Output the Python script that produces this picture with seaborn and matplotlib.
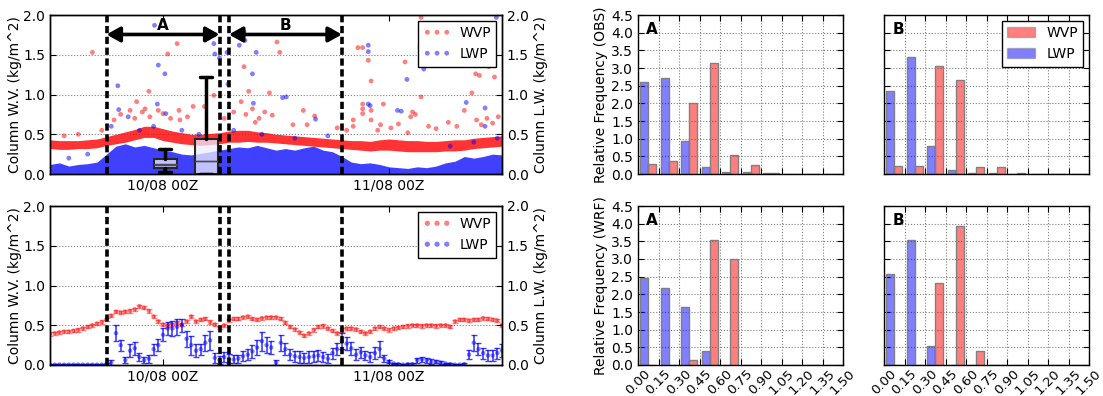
import numpy as np
import pandas as pd
import matplotlib
matplotlib.use("Agg")
import matplotlib.pyplot as plt
import seaborn as sns
from matplotlib.patches import Patch

# ---- time axis (hours relative to 10/08 00Z) ----
obs_hours = np.arange(-12, 37, 1)          # hourly envelope of the OBS cloud
wrf_hours = np.arange(-12, 36.5, 0.5)      # WRF samples every 30 min
time_ticks = [0, 24]
time_labels = ['10/08 00Z', '11/08 00Z']
period_lines = [-6, 6, 7, 19]
periods = {'A': (-6, 6), 'B': (7, 19)}

# ---- OBS: dense band of points (lower / upper edge per hour) ----
obs_wvp_lo = [0.32, 0.31, 0.31, 0.32, 0.32, 0.33, 0.36, 0.38, 0.40, 0.43, 0.46, 0.46,
              0.42, 0.40, 0.38, 0.37, 0.36, 0.37, 0.38, 0.40, 0.40, 0.41, 0.40, 0.40,
              0.39, 0.38, 0.37, 0.36, 0.35, 0.34, 0.33, 0.32, 0.31, 0.30, 0.29, 0.30,
              0.30, 0.29, 0.28, 0.28, 0.28, 0.28, 0.29, 0.29, 0.30, 0.32, 0.33, 0.34, 0.35]
obs_wvp_hi = [0.43, 0.42, 0.42, 0.42, 0.43, 0.44, 0.47, 0.50, 0.53, 0.56, 0.60, 0.60,
              0.57, 0.54, 0.52, 0.50, 0.50, 0.51, 0.52, 0.54, 0.55, 0.55, 0.53, 0.52,
              0.50, 0.49, 0.48, 0.47, 0.46, 0.45, 0.44, 0.43, 0.42, 0.42, 0.41, 0.43,
              0.44, 0.43, 0.42, 0.42, 0.41, 0.41, 0.42, 0.43, 0.43, 0.45, 0.46, 0.47, 0.48]
obs_lwp_hi = [0.12, 0.14, 0.10, 0.12, 0.13, 0.15, 0.25, 0.35, 0.38, 0.34, 0.36, 0.33,
              0.30, 0.28, 0.25, 0.24, 0.26, 0.28, 0.30, 0.32, 0.34, 0.33, 0.36, 0.33,
              0.30, 0.32, 0.30, 0.33, 0.35, 0.30, 0.28, 0.22, 0.15, 0.13, 0.14, 0.12,
              0.09, 0.08, 0.07, 0.09, 0.08, 0.10, 0.14, 0.16, 0.22, 0.20, 0.22, 0.25, 0.24]

# ---- OBS: scattered points away from the band (hour, value) ----
obs_wvp_points = [(-7.5, 1.53), (1.5, 1.64), (0.5, 1.51), (-1.5, 1.04), (-2.8, 0.91), (-3.5, 0.80),
                  (-2.2, 0.78), (-1.9, 0.82), (-0.5, 0.80), (0.0, 0.76), (1.7, 0.80), (-1.4, 0.72),
                  (0.8, 0.70), (1.8, 0.68), (-4.5, 0.75), (-5.2, 0.68), (-3.0, 0.70), (2.6, 0.72),
                  (3.2, 0.85), (4.4, 0.85), (5.4, 0.99), (6.5, 0.70), (7.5, 0.78), (8.3, 0.91),
                  (8.6, 1.35), (9.1, 1.04), (11.3, 1.02), (12.1, 1.66), (12.4, 1.53), (17.8, 1.80),
                  (8.8, 0.75), (9.5, 0.82), (10.2, 0.70), (10.8, 0.78), (11.6, 0.74), (9.8, 0.65),
                  (13.8, 0.62), (14.9, 0.80), (16.1, 0.73), (15.3, 0.62), (20.2, 0.68), (20.2, 0.60),
                  (20.7, 1.59), (21.2, 1.59), (21.8, 1.43), (22.1, 1.17), (21.2, 0.88), (21.2, 0.82),
                  (21.2, 0.76), (22.1, 0.80), (22.1, 0.68), (23.4, 0.88), (23.1, 0.62), (24.2, 0.58),
                  (25.0, 0.63), (25.7, 1.41), (26.3, 0.72), (26.5, 0.78), (26.8, 0.75), (27.4, 0.97),
                  (27.4, 1.97), (28.2, 0.60), (29.0, 0.57), (30.3, 0.65), (31.2, 0.60), (32.0, 0.80),
                  (32.8, 1.02), (32.8, 1.41), (33.2, 1.26), (33.6, 1.24), (34.6, 1.35), (35.2, 1.22),
                  (33.3, 0.68), (33.8, 0.62), (34.4, 0.70), (35.0, 0.64), (35.6, 0.72), (-9.0, 0.50),
                  (-10.5, 0.48), (-6.5, 0.55), (18.5, 0.58), (19.5, 0.55), (22.8, 0.55), (26.0, 0.52)]
obs_lwp_points = [(-0.9, 1.87), (-0.5, 1.37), (0.2, 1.26), (-4.8, 1.11), (-4.7, 0.81), (-3.7, 0.72),
                  (-0.6, 0.88), (0.3, 0.76), (-5.5, 0.60), (-2.5, 0.55), (-1.0, 0.60), (2.0, 0.55),
                  (3.8, 0.50), (5.4, 1.64), (5.5, 1.51), (6.0, 1.46), (6.8, 1.53), (8.1, 1.62),
                  (8.7, 1.68), (8.6, 1.79), (9.9, 1.53), (9.5, 1.26), (6.9, 1.13), (12.7, 0.96),
                  (9.6, 0.89), (13.1, 0.97), (16.2, 0.69), (7.5, 0.55), (10.5, 0.50), (14.0, 0.45),
                  (17.5, 0.48), (21.8, 1.62), (21.8, 1.54), (21.8, 0.88), (22.0, 0.86), (24.9, 0.80),
                  (25.3, 0.79), (25.9, 1.19), (27.3, 1.59), (27.7, 1.32), (32.2, 0.90), (34.2, 0.83),
                  (35.4, 1.97), (34.2, 0.60), (30.5, 0.35), (33.0, 0.40), (35.5, 0.45), (-8.0, 0.25),
                  (-10.0, 0.20)]

# ---- OBS box plots inside period A ----
box_pos = [0.25, 4.6]
box_stats = [dict(med=0.13, q1=0.07, q3=0.185, whislo=0.02, whishi=0.32, mean=0.11),
             dict(med=0.16, q1=0.0, q3=0.44, whislo=0.0, whishi=1.22, mean=0.16)]

# ---- WRF time series ----
wrf_wvp = [0.39, 0.40, 0.41, 0.42, 0.42, 0.43, 0.44, 0.46, 0.48, 0.50, 0.52, 0.54,
           0.57, 0.62, 0.67, 0.66, 0.67, 0.68, 0.70, 0.74, 0.72, 0.68, 0.61, 0.55,
           0.51, 0.50, 0.51, 0.53, 0.51, 0.55, 0.61, 0.55, 0.57, 0.58, 0.54, 0.51,
           0.47, 0.50, 0.56, 0.58, 0.58, 0.60, 0.61, 0.58, 0.57, 0.59, 0.60, 0.60,
           0.60, 0.58, 0.53, 0.48, 0.45, 0.41, 0.37, 0.40, 0.44, 0.48, 0.49, 0.46,
           0.43, 0.40, 0.44, 0.46, 0.46, 0.45, 0.42, 0.40, 0.42, 0.46, 0.48, 0.46,
           0.44, 0.46, 0.47, 0.48, 0.49, 0.50, 0.50, 0.49, 0.50, 0.50, 0.49, 0.50,
           0.50, 0.48, 0.55, 0.57, 0.57, 0.56, 0.57, 0.57, 0.59, 0.58, 0.57, 0.56,
           0.50]
WVP_ERR = 0.02
wrf_lwp = [0.005, 0.005, 0.005, 0.005, 0.005, 0.005, 0.005, 0.005, 0.005, 0.005, 0.005, 0.005,
           0.01, 0.03, 0.40, 0.25, 0.06, 0.18, 0.21, 0.10, 0.06, 0.08, 0.20, 0.25,
           0.38, 0.46, 0.46, 0.48, 0.50, 0.33, 0.25, 0.18, 0.20, 0.28, 0.31, 0.09,
           0.06, 0.10, 0.08, 0.07, 0.08, 0.11, 0.13, 0.17, 0.22, 0.30, 0.25, 0.22,
           0.03, 0.28, 0.20, 0.13, 0.11, 0.10, 0.09, 0.10, 0.11, 0.12, 0.10, 0.08,
           0.15, 0.20, 0.30, 0.27, 0.21, 0.13, 0.16, 0.12, 0.10, 0.15, 0.20, 0.08,
           0.04, 0.02, 0.01, 0.005, 0.01, 0.01, 0.06, 0.07, 0.06, 0.04, 0.04, 0.03,
           0.02, 0.01, 0.005, 0.005, 0.01, 0.13, 0.28, 0.20, 0.15, 0.12, 0.12, 0.15,
           0.18]
wrf_lwp_err = [0.005, 0.005, 0.005, 0.005, 0.005, 0.005, 0.005, 0.005, 0.005, 0.005, 0.005, 0.005,
               0.01, 0.03, 0.10, 0.07, 0.04, 0.08, 0.08, 0.05, 0.04, 0.05, 0.07, 0.08,
               0.08, 0.08, 0.09, 0.10, 0.08, 0.10, 0.12, 0.08, 0.07, 0.10, 0.12, 0.06,
               0.05, 0.06, 0.06, 0.05, 0.05, 0.06, 0.07, 0.08, 0.09, 0.12, 0.10, 0.08,
               0.03, 0.10, 0.08, 0.07, 0.07, 0.07, 0.06, 0.07, 0.07, 0.07, 0.06, 0.06,
               0.07, 0.08, 0.10, 0.08, 0.08, 0.07, 0.07, 0.06, 0.06, 0.08, 0.10, 0.04,
               0.02, 0.01, 0.01, 0.005, 0.01, 0.01, 0.03, 0.03, 0.03, 0.03, 0.02, 0.02,
               0.01, 0.01, 0.005, 0.005, 0.01, 0.06, 0.10, 0.08, 0.07, 0.07, 0.07, 0.07,
               0.08]

# ---- relative frequency histograms (bins of 0.15 from 0 to 1.5) ----
bin_edges = np.round(np.arange(0, 1.51, 0.15), 2)
hist_obs_a_lwp = [2.60, 2.73, 0.93, 0.20, 0.07, 0.06, 0.02, 0.01, 0.0, 0.01]
hist_obs_a_wvp = [0.27, 0.37, 2.00, 3.15, 0.55, 0.25, 0.04, 0.0, 0.0, 0.01]
hist_obs_b_lwp = [2.35, 3.30, 0.80, 0.11, 0.04, 0.02, 0.01, 0.0, 0.0, 0.0]
hist_obs_b_wvp = [0.24, 0.24, 3.07, 2.65, 0.20, 0.21, 0.03, 0.0, 0.0, 0.0]
hist_wrf_a_lwp = [2.45, 2.17, 1.63, 0.40, 0.0, 0.0, 0.0, 0.0, 0.0, 0.0]
hist_wrf_a_wvp = [0.0, 0.0, 0.13, 3.53, 3.00, 0.0, 0.0, 0.0, 0.0, 0.0]
hist_wrf_b_lwp = [2.57, 3.53, 0.55, 0.0, 0.0, 0.0, 0.0, 0.0, 0.0, 0.0]
hist_wrf_b_wvp = [0.0, 0.0, 2.32, 3.93, 0.40, 0.0, 0.0, 0.0, 0.0, 0.0]

colors = {'WVP': 'red', 'LWP': 'blue'}

sns.set_style("ticks")
plt.rcParams['font.family'] = ['DejaVu Sans']
plt.rcParams.update({
    'font.size': 10, 'axes.edgecolor': 'black', 'axes.linewidth': 1.0,
    'text.color': 'black', 'axes.labelcolor': 'black',
    'xtick.color': 'black', 'ytick.color': 'black',
    'xtick.direction': 'in', 'ytick.direction': 'in',
    'xtick.top': True, 'ytick.right': True,
    'xtick.major.size': 4, 'ytick.major.size': 4,
    'xtick.labelsize': 10, 'ytick.labelsize': 10,
})

W, H = 1103, 396
fig = plt.figure(figsize=(W / 100, H / 100), dpi=100)


def box(x0, y_top, w, h):
    return [x0 / W, 1 - (y_top + h) / H, w / W, h / H]


def time_axes(ax):
    ax.set_xlim(-12, 36)
    ax.set_ylim(0, 2)
    ax.set_xticks(time_ticks)
    ax.set_xticklabels(time_labels)
    ax.set_yticks(np.arange(0, 2.01, 0.5))
    ax.set_yticklabels(['%.1f' % v for v in np.arange(0, 2.01, 0.5)])
    ax.yaxis.grid(True, ls=':', color='gray', lw=0.8)
    ax.xaxis.grid(False)
    ax.set_xlabel('')
    ax.set_ylabel('Column W.V. (kg/m^2)', labelpad=1)
    ax.tick_params(axis='y', right=False)
    for x in period_lines:
        ax.axvline(x, color='k', lw=2.6, ls='--', dashes=(2.0, 1.0), zorder=6)
    ax2 = ax.twinx()
    ax2.set_ylim(0, 2)
    ax2.set_yticks(np.arange(0, 2.01, 0.5))
    ax2.set_yticklabels(['%.1f' % v for v in np.arange(0, 2.01, 0.5)])
    ax2.set_ylabel('Column L.W. (kg/m^2)')
    ax2.tick_params(axis='y', direction='in')


# ---------------- OBS time series ----------------
ax_obs = fig.add_axes(box(50, 15, 452, 159))
ax_obs.fill_between(obs_hours, obs_wvp_lo, obs_wvp_hi, color='red', alpha=0.8, lw=0)
ax_obs.fill_between(obs_hours, 0, obs_lwp_hi, color='blue', alpha=0.75, lw=0)
wt, wv = zip(*obs_wvp_points)
lt, lv = zip(*obs_lwp_points)
sns.scatterplot(x=list(wt), y=list(wv), color='red', alpha=0.5, s=12, edgecolor='none',
                ax=ax_obs, label='WVP', legend=False)
sns.scatterplot(x=list(lt), y=list(lv), color='blue', alpha=0.5, s=12, edgecolor='none',
                ax=ax_obs, label='LWP', legend=False)
ax_obs.bxp(box_stats, positions=box_pos, widths=2.5, patch_artist=True, showfliers=False,
           showmeans=True, meanline=True, manage_ticks=False, zorder=5,
           boxprops=dict(facecolor=(0.93, 0.93, 1, 0.75), edgecolor='0.15', lw=1.5),
           medianprops=dict(color='0.3', lw=1),
           meanprops=dict(color='0.3', lw=1, ls='-'),
           whiskerprops=dict(color='k', lw=2.5),
           capprops=dict(color='k', lw=2.5))
for name, (t0, t1) in periods.items():
    ax_obs.annotate('', xy=(t1, 1.755), xytext=(t0, 1.755),
                    arrowprops=dict(arrowstyle='<|-|>,head_length=0.8,head_width=0.45',
                                    color='k', lw=2.6, shrinkA=0, shrinkB=0), zorder=7)
    ax_obs.text((t0 + t1) / 2, 1.87, name, ha='center', va='center',
                fontweight='bold', fontsize=11)
ax_obs.legend(loc='upper right', scatterpoints=3, scatteryoffsets=[0.5], fancybox=False,
              edgecolor='black', framealpha=1, borderaxespad=0.4, handletextpad=0.6)
time_axes(ax_obs)

# ---------------- WRF time series ----------------
ax_wrf = fig.add_axes(box(50, 206, 452, 159))
ax_wrf.errorbar(wrf_hours, wrf_wvp, yerr=WVP_ERR, fmt='none', ecolor='red', alpha=0.45,
                capsize=2, elinewidth=1)
ax_wrf.errorbar(wrf_hours, wrf_lwp, yerr=wrf_lwp_err, fmt='none', ecolor='blue', alpha=0.75,
                capsize=2.5, elinewidth=1.2)
sns.scatterplot(x=wrf_hours, y=wrf_wvp, color='red', alpha=0.5, s=10, edgecolor='none',
                ax=ax_wrf, label='WVP', legend=False)
sns.scatterplot(x=wrf_hours, y=wrf_lwp, color='blue', alpha=0.5, s=10, edgecolor='none',
                ax=ax_wrf, label='LWP', legend=False)
ax_wrf.legend(loc='upper right', scatterpoints=3, scatteryoffsets=[0.5], fancybox=False,
              edgecolor='black', framealpha=1, borderaxespad=0.4, handletextpad=0.6,
              markerscale=1.2)
time_axes(ax_wrf)

# ---------------- histograms ----------------
bin_centers = bin_edges[:-1] + 0.075
hist_panels = [
    ('OBS', 'A', hist_obs_a_lwp, hist_obs_a_wvp, 638, 15),
    ('OBS', 'B', hist_obs_b_lwp, hist_obs_b_wvp, 884, 15),
    ('WRF', 'A', hist_wrf_a_lwp, hist_wrf_a_wvp, 638, 206),
    ('WRF', 'B', hist_wrf_b_lwp, hist_wrf_b_wvp, 884, 206),
]
for src, per, lwp, wvp, x0, y0 in hist_panels:
    ax = fig.add_axes(box(x0, y0, 205, 159))
    df = pd.DataFrame({'center': np.concatenate([bin_centers, bin_centers]),
                       'freq': lwp + wvp,
                       'var': ['LWP'] * len(lwp) + ['WVP'] * len(wvp)})
    sns.histplot(data=df, x='center', weights='freq', hue='var', hue_order=['LWP', 'WVP'],
                 binwidth=0.15, binrange=(0, 1.5), multiple='dodge', shrink=0.8,
                 palette=colors, alpha=0.5, edgecolor='gray', linewidth=1,
                 legend=False, ax=ax)
    ax.set_xlim(0, 1.5)
    ax.set_ylim(0, 4.5)
    ax.set_axisbelow(True)
    ax.grid(True, ls=':', color='gray', lw=0.8)
    ax.set_xticks(bin_edges)
    ax.set_yticks(np.arange(0, 4.51, 0.5))
    ax.set_xlabel('')
    ax.text(0.04, 0.91, per, transform=ax.transAxes, fontweight='bold', fontsize=11,
            va='center')
    if per == 'A':
        ax.set_yticklabels(['%.1f' % v for v in np.arange(0, 4.51, 0.5)])
        ax.set_ylabel('Relative Frequency (%s)' % src, labelpad=2)
    else:
        ax.set_yticklabels([])
        ax.set_ylabel('')
    if src == 'WRF':
        ax.set_xticklabels(['%.2f' % v for v in bin_edges], rotation=45, fontsize=9.5)
        ax.tick_params(axis='x', pad=1.5)
    else:
        ax.set_xticklabels([])
    if src == 'OBS' and per == 'B':
        handles = [Patch(facecolor='red', alpha=0.5, edgecolor='gray', label='WVP'),
                   Patch(facecolor='blue', alpha=0.5, edgecolor='gray', label='LWP')]
        ax.legend(handles=handles, loc='upper right', fancybox=False, edgecolor='black',
                  framealpha=1, borderaxespad=0.4)

fig.savefig('out.png', dpi=100)
